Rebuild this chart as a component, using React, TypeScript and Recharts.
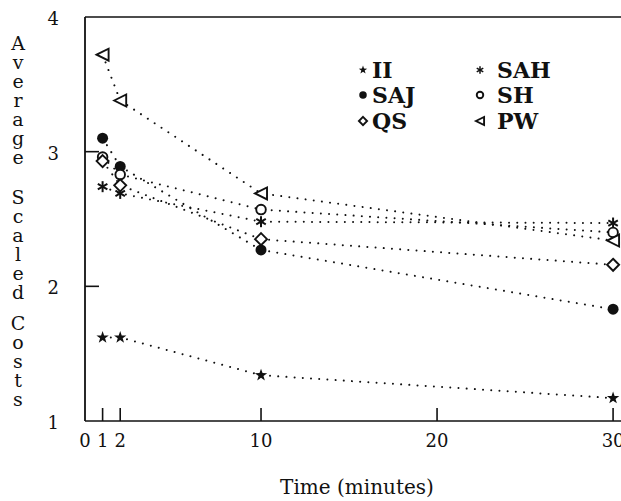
import React from 'react';
import { LineChart, Line, XAxis, YAxis, ReferenceLine, Legend, Label } from 'recharts';

const times = [1, 2, 10, 30];
const II = [1.62, 1.62, 1.34, 1.17];
const SAH = [2.74, 2.69, 2.48, 2.47];
const SAJ = [3.1, 2.89, 2.27, 1.83];
const SH = [2.96, 2.83, 2.57, 2.4];
const QS = [2.93, 2.75, 2.35, 2.16];
const PW = [3.72, 3.38, 2.69, 2.34];
const xTicks = [0, 1, 2, 10, 20, 30];
const yTicks = [1, 2, 3, 4];
const yTitleWords = ['Average', 'Scaled', 'Costs'];
const xTitle = 'Time (minutes)';

type Shape = 'star' | 'asterisk' | 'dot' | 'circle' | 'diamond' | 'triangle';

const seriesList: { key: string; values: number[]; shape: Shape }[] = [
  { key: 'II', values: II, shape: 'star' },
  { key: 'SAH', values: SAH, shape: 'asterisk' },
  { key: 'SAJ', values: SAJ, shape: 'dot' },
  { key: 'SH', values: SH, shape: 'circle' },
  { key: 'QS', values: QS, shape: 'diamond' },
  { key: 'PW', values: PW, shape: 'triangle' },
];

const data = times.map((t, i) => {
  const row: Record<string, number> = { t };
  seriesList.forEach((s) => {
    row[s.key] = s.values[i];
  });
  return row;
});

const INK = '#111';

function Marker({ shape, cx, cy, s = 1 }: { shape: Shape; cx: number; cy: number; s?: number }) {
  switch (shape) {
    case 'star': {
      const pts: string[] = [];
      for (let k = 0; k < 10; k++) {
        const r = k % 2 === 0 ? 6.5 * s : 2.6 * s;
        const a = -Math.PI / 2 + (k * Math.PI) / 5;
        pts.push(`${cx + r * Math.cos(a)},${cy + r * Math.sin(a)}`);
      }
      return <polygon points={pts.join(' ')} fill={INK} />;
    }
    case 'asterisk': {
      const r = 5.5 * s;
      return (
        <g stroke={INK} strokeWidth={2 * Math.max(s, 0.75)}>
          {[90, 30, 150].map((deg) => {
            const a = (deg * Math.PI) / 180;
            return (
              <line
                key={deg}
                x1={cx - r * Math.cos(a)}
                y1={cy - r * Math.sin(a)}
                x2={cx + r * Math.cos(a)}
                y2={cy + r * Math.sin(a)}
              />
            );
          })}
        </g>
      );
    }
    case 'dot':
      return <circle cx={cx} cy={cy} r={5.5 * s} fill={INK} />;
    case 'circle':
      return <circle cx={cx} cy={cy} r={4.8 * s} fill="#fff" stroke={INK} strokeWidth={1.9} />;
    case 'diamond': {
      const r = 6 * s;
      return (
        <polygon
          points={`${cx},${cy - r} ${cx + r},${cy} ${cx},${cy + r} ${cx - r},${cy}`}
          fill="#fff"
          stroke={INK}
          strokeWidth={1.9}
        />
      );
    }
    case 'triangle': {
      const r = 6 * s;
      return (
        <polygon
          points={`${cx - r},${cy} ${cx + r},${cy - r} ${cx + r},${cy + r}`}
          fill="#fff"
          stroke={INK}
          strokeWidth={1.9}
        />
      );
    }
  }
  return null;
}

const XTick = (props: any) => {
  const { x, y, payload } = props;
  return (
    <g>
      {payload.value !== 0 && <line x1={x} x2={x} y1={y} y2={y - 13} stroke={INK} strokeWidth={1.6} />}
      <text x={x} y={y + 26} textAnchor="middle" fontFamily="DejaVu Serif" fontSize={18} fill={INK}>
        {payload.value}
      </text>
    </g>
  );
};

const YTick = (props: any) => {
  const { x, y, payload } = props;
  const inner = payload.value === 2 || payload.value === 3;
  return (
    <g>
      {inner && <line x1={x} x2={x + 14} y1={y} y2={y} stroke={INK} strokeWidth={1.6} />}
      <text x={x - 26} y={y + 8} textAnchor="end" fontFamily="DejaVu Serif" fontSize={18} fill={INK}>
        {payload.value}
      </text>
    </g>
  );
};

const wordStarts = [43, 197, 323];

const YTitle = () => (
  <g>
    {yTitleWords.map((w, wi) =>
      w.split('').map((ch, ci) => (
        <text
          key={`${wi}-${ci}`}
          x={18}
          y={wordStarts[wi] + ci * 19 + 7}
          textAnchor="middle"
          fontFamily="DejaVu Serif"
          fontSize={19}
          fill={INK}
        >
          {ch}
        </text>
      ))
    )}
  </g>
);

const XTitle = () => (
  <text x={357} y={494} textAnchor="middle" fontFamily="DejaVu Serif" fontSize={20} fill={INK}>
    {xTitle}
  </text>
);

const legendPos: Record<string, { mx: number; tx: number; y: number }> = {
  II: { mx: 363, tx: 372, y: 70 },
  SAJ: { mx: 363, tx: 372, y: 95 },
  QS: { mx: 363, tx: 372, y: 121 },
  SAH: { mx: 480, tx: 497, y: 70 },
  SH: { mx: 480, tx: 497, y: 95 },
  PW: { mx: 480, tx: 497, y: 121 },
};

const LegendContent = () => (
  <div style={{ position: 'relative', width: 1, height: 1, pointerEvents: 'none' }}>
    {seriesList.map((s) => {
      const p = legendPos[s.key];
      return (
        <React.Fragment key={s.key}>
          <svg
            width={14}
            height={14}
            style={{ position: 'absolute', left: p.mx - 7, top: p.y - 7, overflow: 'visible' }}
          >
            <Marker shape={s.shape} cx={7} cy={7} s={0.68} />
          </svg>
          <div
            style={{
              position: 'absolute',
              left: p.tx,
              top: p.y - 14,
              height: 28,
              lineHeight: '28px',
              fontFamily: 'DejaVu Serif',
              fontWeight: 'bold',
              fontSize: 22,
              color: INK,
              whiteSpace: 'nowrap',
            }}
          >
            {s.key}
          </div>
        </React.Fragment>
      );
    })}
  </div>
);

export default function App() {
  return (
    <div style={{ position: 'absolute', left: 0, top: 0, width: 621, height: 501, background: '#fff' }}>
      <LineChart width={621} height={501} data={data} margin={{ top: 17, right: 0, bottom: 0, left: 0 }}>
        <XAxis
          type="number"
          dataKey="t"
          domain={[0, 30.45]}
          ticks={xTicks}
          interval={0}
          allowDataOverflow
          height={80}
          tickLine={false}
          tickSize={0}
          tickMargin={0}
          tick={<XTick />}
          axisLine={{ stroke: INK, strokeWidth: 1.6 }}
        >
          <Label content={<XTitle />} />
        </XAxis>
        <YAxis
          type="number"
          domain={[1, 4]}
          ticks={yTicks}
          interval={0}
          width={85}
          tickLine={false}
          tickSize={0}
          tickMargin={0}
          tick={<YTick />}
          axisLine={{ stroke: INK, strokeWidth: 1.8 }}
        >
          <Label content={<YTitle />} />
        </YAxis>
        <ReferenceLine y={4} stroke={INK} strokeWidth={1.4} />
        {seriesList.map((s) => (
          <Line
            key={s.key}
            type="linear"
            dataKey={s.key}
            stroke={INK}
            strokeWidth={2}
            strokeDasharray="0.01 8.2"
            strokeLinecap="round"
            isAnimationActive={false}
            activeDot={false}
            dot={(p: any) => (
              <Marker key={`${s.key}-${p.index}`} shape={s.shape} cx={p.cx} cy={p.cy} />
            )}
          />
        ))}
        <Legend
          layout="horizontal"
          verticalAlign="middle"
          align="center"
          content={<LegendContent />}
          wrapperStyle={{ left: 0, top: 0, width: 1, height: 1 }}
        />
      </LineChart>
    </div>
  );
}
